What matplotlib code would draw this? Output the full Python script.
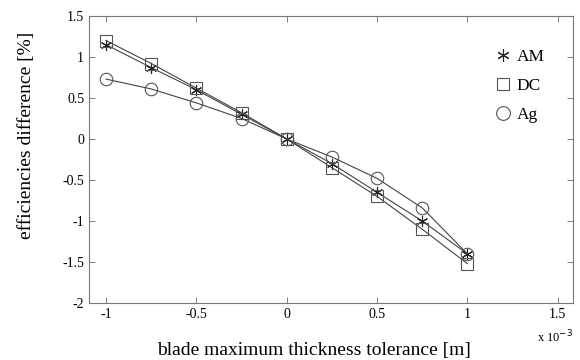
import matplotlib
matplotlib.use("Agg")
import matplotlib.pyplot as plt

x = [-1.0, -0.75, -0.5, -0.25, 0.0, 0.25, 0.5, 0.75, 1.0]
am = [1.15, 0.87, 0.60, 0.30, 0.0, -0.30, -0.65, -1.00, -1.40]
dc = [1.20, 0.92, 0.62, 0.32, 0.0, -0.35, -0.70, -1.10, -1.52]
ag = [0.73, 0.61, 0.44, 0.25, 0.0, -0.22, -0.48, -0.84, -1.40]

xticks = [-1, -0.5, 0, 0.5, 1, 1.5]
xticklabels = ["-1", "-0.5", "0", "0.5", "1", "1.5"]
yticks = [-2, -1.5, -1, -0.5, 0, 0.5, 1, 1.5]
yticklabels = ["-2", "-1.5", "-1", "-0.5", "0", "0.5", "1", "1.5"]

plt.rcParams["font.family"] = ["Liberation Serif", "DejaVu Serif"]

fig = plt.figure(figsize=(5.8, 3.6), dpi=100)
ax = fig.add_axes([89 / 580, 57 / 360, 484 / 580, 287 / 360])

lc = "#444444"
ax.plot(x, am, color=lc, lw=0.8, marker=(6, 2, 0), ms=8, mec="#222222",
        mew=0.8, label="AM")
ax.plot(x, dc, color=lc, lw=0.8, marker="s", ms=8, mfc="none",
        mec="#555555", mew=0.8, label="DC")
ax.plot(x, ag, color=lc, lw=0.8, marker="o", ms=9, mfc="none",
        mec="#555555", mew=0.8, label="Ag")

ax.set_xlim(-1.095, 1.585)
ax.set_ylim(-2, 1.5)
ax.set_xticks(xticks)
ax.set_xticklabels(xticklabels)
ax.set_yticks(yticks)
ax.set_yticklabels(yticklabels)
ax.tick_params(direction="in", top=True, right=True, labelsize=10,
               length=4, width=0.6, color="#666666")
for s in ax.spines.values():
    s.set_color("#777777")
    s.set_linewidth(0.8)

ax.set_xlabel("blade maximum thickness tolerance [m]", fontsize=14)
ax.xaxis.set_label_coords(0.465, -0.135)
ax.set_ylabel("efficiencies difference [%]", fontsize=14)
ax.yaxis.set_label_coords(-0.112, 0.585)
ax.text(1.0, -0.09, r"x 10$^{-3}$", transform=ax.transAxes, ha="right",
        va="top", fontsize=9)

leg = ax.legend(loc="upper left", bbox_to_anchor=(0.823, 0.94), frameon=False,
                fontsize=12.5, handlelength=0.0, handletextpad=0.8,
                labelspacing=0.75, markerscale=1.1)

fig.savefig("out.png", dpi=100)
